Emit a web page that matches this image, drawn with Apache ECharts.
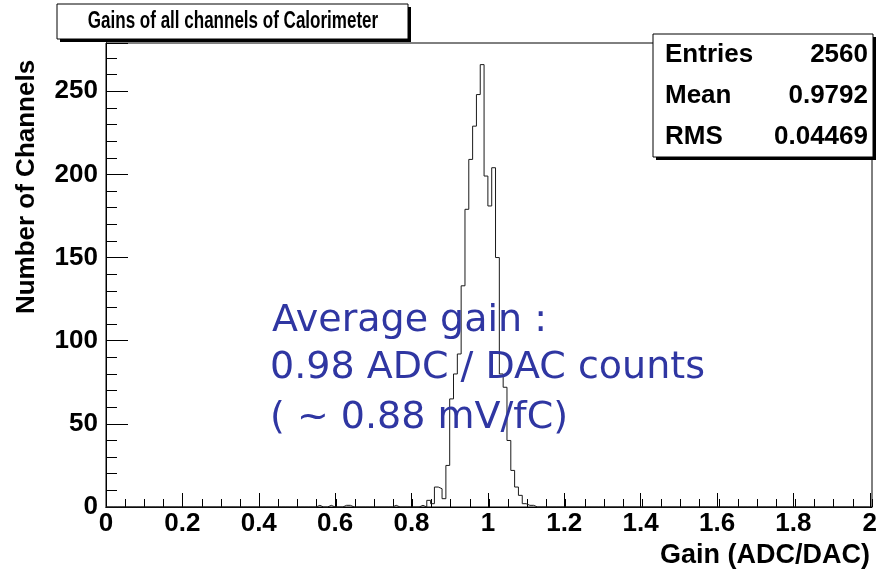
<!DOCTYPE html>
<html>
<head>
<meta charset="utf-8">
<script src="https://cdn.jsdelivr.net/npm/echarts@6/dist/echarts.min.js"></script>
<style>
  html, body { margin: 0; padding: 0; background: #ffffff; }
  #chart { width: 880px; height: 574px; }
</style>
</head>
<body>
<div id="chart"></div>
<script>
// Gain histogram, bin width 0.01: lower edge and entries of each non-empty bin
const binWidth = 0.01;
const binLowEdges = [0.55, 0.58, 0.62, 0.63, 0.75, 0.82, 0.84, 0.85, 0.86, 0.87,
                     0.88, 0.89, 0.90, 0.91, 0.92, 0.93, 0.94, 0.95, 0.96, 0.97,
                     0.98, 0.99, 1.00, 1.01, 1.02, 1.03, 1.04, 1.05, 1.06, 1.07,
                     1.08, 1.09, 1.10, 1.11];
const binCounts = [1, 1, 1, 1, 1, 1, 4, 2, 12, 11,
                   5, 25, 65, 80, 92, 133, 179, 209, 229, 248,
                   266, 199, 181, 204, 150, 80, 72, 40, 22, 12,
                   7, 2, 1, 1];

// Axis ranges and tick steps
const xRange = [0, 2];
const xMajorStep = 0.2;
const xMinorStep = 0.05;
const yRange = [0, 279];
const yMajorStep = 50;
const yMinorStep = 10;

// Texts
const titleText = 'Gains of all channels of Calorimeter';
const xTitle = 'Gain (ADC/DAC)';
const yTitle = 'Number of Channels';
const statNames = ['Entries', 'Mean', 'RMS'];
const statValues = ['2560', '0.9792', '0.04469'];
const noteLines = ['Average gain :', '0.98 ADC / DAC counts', '( ~ 0.88 mV/fC)'];

// Build the full step outline, one point per bin edge
const nBins = Math.round((xRange[1] - xRange[0]) / binWidth);
const counts = new Array(nBins).fill(0);
binLowEdges.forEach((edge, i) => {
  counts[Math.round((edge - xRange[0]) / binWidth)] = binCounts[i];
});
const stepData = counts.map((c, i) => [+(xRange[0] + i * binWidth).toFixed(2), c]);
stepData.push([xRange[1], 0]);

const FONT = '"Liberation Sans", Arial, Helvetica, sans-serif';
const gridBox = { left: 106, right: 8, top: 43, bottom: 67 };

const chart = echarts.init(document.getElementById('chart'), null, { renderer: 'canvas' });

function boxWithShadow(x, y, w, h) {
  return [
    { type: 'rect', shape: { x: x + 3, y: y + 3, width: w, height: h },
      style: { fill: '#000' }, z: 100 },
    { type: 'rect', shape: { x: x, y: y, width: w, height: h },
      style: { fill: '#fff', stroke: '#000', lineWidth: 1 }, z: 101 }
  ];
}

function label(text, x, y, size, align, opts) {
  return Object.assign({
    type: 'text', x: x, y: y, z: 102,
    style: {
      text: text, x: 0, y: 0,
      fontFamily: FONT, fontWeight: 'bold', fontSize: size,
      fill: '#000', align: align, verticalAlign: 'middle'
    }
  }, opts || {});
}

const graphics = [];
// title pave
graphics.push(...boxWithShadow(57, 4, 351, 35));
graphics.push(label(titleText, 233, 22, 23, 'center', { scaleX: 0.74 }));
// statistics box
graphics.push(...boxWithShadow(653, 34, 220, 123));
const statY = [55, 96, 137];
statNames.forEach((n, i) => {
  graphics.push(label(n, 665, statY[i], 26, 'left'));
  graphics.push(label(statValues[i], 868, statY[i], 26, 'right'));
});
// axis titles
graphics.push(label(xTitle, 870, 556, 27, 'right'));
graphics.push(label(yTitle, 27, 187, 26, 'center', { rotation: Math.PI / 2 }));
// annotation
const noteX = [272, 270, 270];
const noteY = [321, 368, 418];
noteLines.forEach((t, i) => {
  graphics.push({
    type: 'text', x: noteX[i], y: noteY[i], z: 102,
    style: {
      text: t, x: 0, y: 0,
      fontFamily: '"Comic Sans MS", "DejaVu Sans", sans-serif',
      fontSize: 38, fill: '#2f36a2', align: 'left', verticalAlign: 'middle'
    }
  });
});

const tickLabelStyle = { color: '#000', fontFamily: FONT, fontWeight: 'bold', fontSize: 26 };

chart.setOption({
  animation: false,
  backgroundColor: '#fff',
  grid: [
    Object.assign({ show: true, borderColor: '#000', borderWidth: 1, backgroundColor: 'transparent' }, gridBox),
    Object.assign({ show: false }, gridBox)
  ],
  xAxis: [
    { // minor ticks
      gridIndex: 0, type: 'value', min: xRange[0], max: xRange[1], interval: xMinorStep,
      axisLine: { lineStyle: { color: '#000', width: 1 } },
      axisTick: { inside: true, length: 8, lineStyle: { color: '#000' } },
      axisLabel: { show: false }, splitLine: { show: false }
    },
    { // major ticks and labels
      gridIndex: 1, type: 'value', min: xRange[0], max: xRange[1], interval: xMajorStep,
      axisLine: { lineStyle: { color: '#000', width: 1 } },
      axisTick: { inside: true, length: 14, lineStyle: { color: '#000' } },
      axisLabel: Object.assign({ margin: 4, formatter: v => String(+v.toFixed(1)) }, tickLabelStyle),
      splitLine: { show: false }
    }
  ],
  yAxis: [
    {
      gridIndex: 0, type: 'value', min: yRange[0], max: yRange[1], interval: yMinorStep,
      axisLine: { show: true, lineStyle: { color: '#000', width: 1 } },
      axisTick: { show: true, inside: true, length: 11, lineStyle: { color: '#000' } },
      axisLabel: { show: false }, splitLine: { show: false }
    },
    {
      gridIndex: 1, type: 'value', min: yRange[0], max: yRange[1], interval: yMajorStep,
      axisLine: { show: true, lineStyle: { color: '#000', width: 1 } },
      axisTick: { show: true, inside: true, length: 22, lineStyle: { color: '#000' } },
      axisLabel: Object.assign({
        margin: 8,
        formatter: v => (v % yMajorStep === 0 ? String(v) : '')
      }, tickLabelStyle),
      splitLine: { show: false }
    }
  ],
  series: [{
    type: 'line',
    xAxisIndex: 1, yAxisIndex: 1,
    data: stepData,
    step: 'end',
    showSymbol: false,
    symbol: 'none',
    clip: false,
    lineStyle: { color: '#1a1a1a', width: 1 },
    z: 3
  }],
  graphic: graphics
});
</script>
</body>
</html>
